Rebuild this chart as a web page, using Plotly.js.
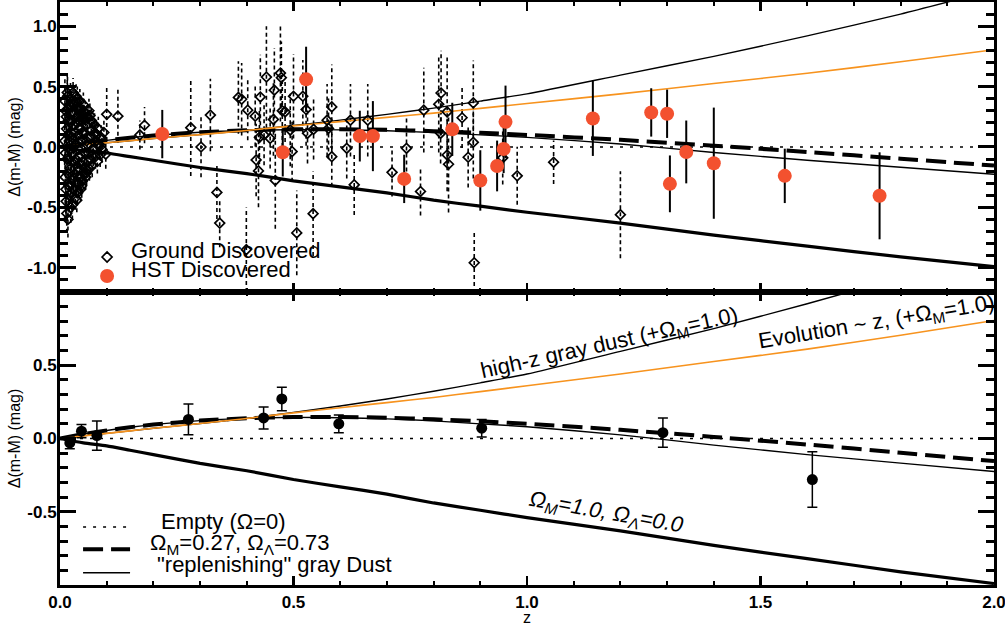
<!DOCTYPE html>
<html>
<head>
<meta charset="utf-8">
<script src="https://cdn.plot.ly/plotly-3.0.1.min.js"></script>
<style>
  html, body { margin: 0; padding: 0; background: #fff; }
  #chart { width: 1005px; height: 626px; }
</style>
</head>
<body>
<div id="chart"></div>
<script>
// ---------- model curves, Δ(m-M) relative to empty universe ----------
const zGrid        = [0, 0.05, 0.1, 0.15, 0.2, 0.3, 0.4, 0.5, 0.6, 0.7, 0.8, 0.9, 1.0, 1.2, 1.4, 1.6, 1.8, 2.0];
const emptyModel   = [0, 0, 0, 0, 0, 0, 0, 0, 0, 0, 0, 0, 0, 0, 0, 0, 0, 0];
const omegaM1      = [0, -0.03, -0.05, -0.08, -0.11, -0.17, -0.22, -0.28, -0.33, -0.38, -0.44, -0.49, -0.54, -0.63, -0.73, -0.82, -0.91, -0.99];
const lcdm         = [0, 0.03, 0.055, 0.077, 0.095, 0.122, 0.138, 0.146, 0.147, 0.142, 0.131, 0.118, 0.10, 0.059, 0.011, -0.041, -0.097, -0.154];
const replenishing = [0, 0.03, 0.055, 0.077, 0.095, 0.122, 0.137, 0.144, 0.142, 0.134, 0.12, 0.10, 0.08, 0.025, -0.045, -0.11, -0.168, -0.225];
const grayDust     = [0, 0.018, 0.035, 0.052, 0.07, 0.102, 0.137, 0.178, 0.222, 0.27, 0.322, 0.38, 0.44, 0.595, 0.75, 0.92, 1.10, 1.30];
const evolution    = [0, 0.018, 0.035, 0.052, 0.07, 0.102, 0.137, 0.175, 0.21, 0.245, 0.28, 0.32, 0.36, 0.44, 0.525, 0.61, 0.705, 0.805];

// ---------- ground-discovered SNe (top panel) ----------
const groundZ = [
  0.010, 0.011, 0.012, 0.013, 0.014, 0.015, 0.016, 0.017, 0.018, 0.019, 0.020, 0.021, 0.022, 0.023, 0.024,
  0.025, 0.026, 0.027, 0.028, 0.029, 0.030, 0.031, 0.032, 0.033, 0.034, 0.035, 0.036, 0.037, 0.038, 0.039,
  0.040, 0.041, 0.042, 0.043, 0.044, 0.045, 0.046, 0.047, 0.048, 0.049, 0.050, 0.051, 0.052, 0.053, 0.054,
  0.055, 0.056, 0.057, 0.058, 0.059, 0.060, 0.062, 0.063, 0.064, 0.065, 0.066, 0.068, 0.069, 0.070, 0.072,
  0.073, 0.075, 0.076, 0.078, 0.080, 0.082, 0.084, 0.086, 0.088, 0.090, 0.094, 0.098,
  0.0105, 0.0115, 0.0125, 0.0135, 0.0145, 0.0155, 0.0165, 0.0175, 0.0185, 0.0195, 0.0205, 0.0215, 0.0225,
  0.0235, 0.0245, 0.0255, 0.0265, 0.0275, 0.0285, 0.0295, 0.0305, 0.0315, 0.0325, 0.0335, 0.0345, 0.0355,
  0.0365, 0.0375, 0.0385, 0.0395, 0.0405, 0.0415, 0.0425, 0.0435, 0.0445, 0.0455, 0.0465, 0.0475, 0.0485,
  0.0495, 0.051, 0.053, 0.055, 0.057, 0.061, 0.067, 0.071, 0.074, 0.079, 0.085,
  0.100, 0.124, 0.171, 0.181, 0.280, 0.302, 0.322, 0.336, 0.342, 0.382, 0.389, 0.399, 0.402, 0.418, 0.420,
  0.425, 0.427, 0.429, 0.437, 0.442, 0.450, 0.457, 0.459, 0.461, 0.472, 0.474, 0.476, 0.482, 0.493, 0.497,
  0.500, 0.507, 0.520, 0.527, 0.530, 0.542, 0.543, 0.572, 0.575, 0.582, 0.582, 0.614, 0.622, 0.630, 0.659,
  0.711, 0.742, 0.772, 0.779, 0.811, 0.815, 0.816, 0.829, 0.829, 0.832, 0.861, 0.874, 0.885, 0.885, 0.887,
  0.948, 0.979, 1.057, 1.200
];
const groundV = [
  0.05, -0.25, 0.30, -0.45, 0.15, -0.10, 0.42, -0.60, 0.22, -0.32, 0.05, 0.35, -0.18, -0.50, 0.12,
  -0.38, 0.28, -0.05, 0.45, -0.26, 0.18, -0.12, 0.38, -0.42, 0.02, 0.25, -0.44, 0.40, -0.20, 0.10,
  -0.30, 0.30, -0.08, 0.32, -0.35, 0.15, -0.15, 0.22, -0.28, 0.05, 0.35, -0.22, 0.12, -0.05, 0.28,
  -0.25, 0.18, -0.215, 0.02, 0.25, -0.12, 0.30, -0.18, 0.26, 0.08, -0.10, 0.14, -0.15, 0.20, -0.02,
  0.10, 0.115, -0.08, 0.05, -0.12, 0.15, 0.02, -0.066, 0.08, -0.02, 0.12, -0.06,
  0.38, -0.05, -0.35, 0.25, -0.55, 0.45, 0.10, -0.22, 0.32, -0.40, -0.02, 0.20, 0.40,
  -0.30, -0.12, 0.08, -0.48, 0.35, 0.00, -0.35, 0.28, -0.22, 0.12, -0.10, 0.42, -0.30,
  0.20, -0.38, 0.32, -0.02, 0.22, -0.18, 0.38, -0.25, 0.05, 0.28, -0.32, 0.12, -0.12,
  0.25, 0.30, -0.18, 0.22, 0.05, -0.05, 0.22, -0.06, 0.18, 0.10, 0.00,
  0.27, 0.255, 0.10, 0.18, 0.16, 0.00, 0.264, -0.376, -0.63, 0.41, 0.395, -0.85, 0.305, 0.255, -0.107,
  -0.198, 0.08, 0.414, 0.099, 0.579, 0.071, 0.228, 0.47, -0.277, 0.612, 0.574, 0.299, 0.291, 0.14, -0.038,
  0.42, -0.711, 0.42, 0.31, 0.113, -0.552, 0.146, 0.222, 0.154, 0.332, -0.08, -0.011, 0.222, -0.313, 0.222,
  -0.21, -0.011, -0.368, 0.305, 0.354, 0.113, 0.447, 0.291, -0.066, -0.143, 0.242, -0.085, 0.365, 0.039, -0.958,
  -0.09, -0.239, -0.126, -0.56
];
const groundErr = [
  0.20, 0.22, 0.20, 0.18, 0.18, 0.18, 0.16, 0.15, 0.15, 0.15, 0.14, 0.14, 0.13, 0.13, 0.13,
  0.12, 0.12, 0.12, 0.12, 0.11, 0.11, 0.11, 0.10, 0.10, 0.10, 0.10, 0.10, 0.10, 0.10, 0.10,
  0.10, 0.10, 0.10, 0.10, 0.10, 0.10, 0.10, 0.10, 0.10, 0.10, 0.10, 0.10, 0.10, 0.10, 0.10,
  0.10, 0.10, 0.10, 0.10, 0.10, 0.10, 0.10, 0.10, 0.10, 0.10, 0.10, 0.10, 0.10, 0.10, 0.10,
  0.10, 0.10, 0.10, 0.10, 0.10, 0.10, 0.10, 0.10, 0.10, 0.11, 0.11, 0.12,
  0.20, 0.20, 0.20, 0.18, 0.16, 0.16, 0.16, 0.15, 0.15, 0.14, 0.14, 0.14, 0.13,
  0.13, 0.13, 0.12, 0.12, 0.12, 0.12, 0.11, 0.11, 0.11, 0.10, 0.10, 0.10, 0.10,
  0.10, 0.10, 0.10, 0.10, 0.10, 0.10, 0.10, 0.10, 0.10, 0.10, 0.10, 0.10, 0.10,
  0.10, 0.10, 0.10, 0.10, 0.10, 0.10, 0.10, 0.10, 0.10, 0.10, 0.10,
  0.22, 0.22, 0.12, 0.15, 0.40, 0.25, 0.30, 0.22, 0.20, 0.30, 0.30, 0.35, 0.25, 0.25, 0.30,
  0.30, 0.22, 0.35, 0.25, 0.42, 0.25, 0.30, 0.35, 0.40, 0.40, 0.30, 0.30, 0.25, 0.30, 0.25,
  0.35, 0.35, 0.30, 0.30, 0.25, 0.35, 0.25, 0.30, 0.25, 0.35, 0.25, 0.25, 0.30, 0.25, 0.30,
  0.20, 0.25, 0.20, 0.35, 0.40, 0.25, 0.35, 0.45, 0.30, 0.40, 0.25, 0.25, 0.35, 0.30, 0.25,
  0.22, 0.24, 0.18, 0.36
];

// ---------- HST-discovered SNe (top panel) ----------
const hstZ   = [0.219, 0.477, 0.527, 0.642, 0.670, 0.737, 0.840, 0.900, 0.936, 0.950, 0.954, 1.141, 1.266, 1.300, 1.306, 1.341, 1.400, 1.552, 1.755];
const hstV   = [0.107, -0.044, 0.56, 0.09, 0.09, -0.264, 0.146, -0.277, -0.157, -0.016, 0.208, 0.236, 0.286, 0.275, -0.305, -0.041, -0.134, -0.239, -0.404];
const hstErr = [0.20, 0.20, 0.27, 0.21, 0.29, 0.20, 0.22, 0.25, 0.21, 0.20, 0.30, 0.31, 0.20, 0.20, 0.235, 0.26, 0.46, 0.225, 0.36];

// ---------- binned data (bottom panel) ----------
const binZ   = [0.021, 0.046, 0.079, 0.275, 0.436, 0.475, 0.597, 0.903, 1.291, 1.611];
const binV   = [-0.03, 0.05, 0.02, 0.13, 0.14, 0.27, 0.10, 0.07, 0.04, -0.28];
const binErr = [0.04, 0.045, 0.10, 0.105, 0.075, 0.08, 0.06, 0.06, 0.10, 0.19];

// ---------- tick labels ----------
const xTickVals  = [0, 0.5, 1.0, 1.5, 2.0];
const xTickText  = ['0.0', '0.5', '1.0', '1.5', '2.0'];
const yTopVals   = [-1.0, -0.5, 0.0, 0.5, 1.0];
const yTopText   = ['-1.0', '-0.5', '0.0', '0.5', '1.0'];
const yBotVals   = [-0.5, 0.0, 0.5];
const yBotText   = ['-0.5', '0.0', '0.5'];

// ---------- styles ----------
const FONT = 'Liberation Sans, Arial, Helvetica, sans-serif';
const RED = '#f3512f';
const ORANGE = '#f7931e';
const BIG = 22;

function modelTraces(xa, ya) {
  const common = { x: zGrid, xaxis: xa, yaxis: ya, mode: 'lines', hoverinfo: 'skip', showlegend: false };
  return [
    Object.assign({}, common, { y: emptyModel, line: { color: 'black', width: 1.5, dash: '3px,7px' } }),
    Object.assign({}, common, { y: omegaM1, line: { color: 'black', width: 3.2, shape: 'spline', smoothing: 0.6 } }),
    Object.assign({}, common, { y: replenishing, line: { color: 'black', width: 1.4, shape: 'spline', smoothing: 0.6 } }),
    Object.assign({}, common, { y: lcdm, line: { color: 'black', width: 4, dash: '20px,8px', shape: 'spline', smoothing: 0.6 } }),
    Object.assign({}, common, { y: grayDust, line: { color: 'black', width: 1.4, shape: 'spline', smoothing: 0.6 } }),
    Object.assign({}, common, { y: evolution, line: { color: ORANGE, width: 1.6, shape: 'spline', smoothing: 0.6 } })
  ];
}

// dotted error bars for ground sample, built from the arrays
const gex = [], gey = [];
for (let i = 0; i < groundZ.length; i++) {
  gex.push(groundZ[i], groundZ[i], null);
  gey.push(groundV[i] - groundErr[i], groundV[i] + groundErr[i], null);
}

const traces = [].concat(
  [{ x: gex, y: gey, xaxis: 'x', yaxis: 'y', mode: 'lines', hoverinfo: 'skip', showlegend: false,
     line: { color: 'black', width: 1.6, dash: '4px,3px' } }],
  modelTraces('x', 'y'),
  [{ x: groundZ, y: groundV, xaxis: 'x', yaxis: 'y', mode: 'markers', showlegend: false,
     marker: { symbol: 'diamond-open', size: 7.5, color: 'black', line: { color: 'black', width: 1.7 } } },
   { x: hstZ, y: hstV, xaxis: 'x', yaxis: 'y', mode: 'markers', showlegend: false,
     error_y: { type: 'data', array: hstErr, visible: true, color: 'black', thickness: 2, width: 0 },
     marker: { symbol: 'circle', size: 14, color: RED, line: { width: 0 } } }],
  modelTraces('x2', 'y2'),
  [{ x: binZ, y: binV, xaxis: 'x2', yaxis: 'y2', mode: 'markers', showlegend: false,
     error_y: { type: 'data', array: binErr, visible: true, color: 'black', thickness: 1.5, width: 5 },
     marker: { symbol: 'circle', size: 11, color: 'black' } }]
);

function axisBase(extra) {
  return Object.assign({
    showline: true, linecolor: 'black', linewidth: 3, mirror: 'allticks',
    ticks: 'inside', tickcolor: 'black', showgrid: false, zeroline: false,
    tickfont: { family: FONT, size: 17, color: 'black', weight: 'bold' },
    ticklabeloverflow: 'allow',
    tickmode: 'array'
  }, extra);
}

const splitY = 0.5026;
const minorX = { tickmode: 'linear', tick0: 0, dtick: 0.1, ticks: 'inside', ticklen: 4, tickwidth: 2, tickcolor: 'black' };
const minorY = { tickmode: 'linear', tick0: 0, dtick: 0.1, ticks: 'inside', ticklen: 8, tickwidth: 3, tickcolor: 'black' };
const yTitle = { text: 'Δ(m-M) (mag)', font: { family: FONT, size: 16, color: 'black' }, standoff: 3 };

const layout = {
  width: 1005, height: 626,
  margin: { l: 60, r: 11, t: 2, b: 41 },
  paper_bgcolor: 'white', plot_bgcolor: 'white',
  font: { family: FONT, color: 'black' },
  showlegend: false,
  xaxis: axisBase({ domain: [0, 1], anchor: 'y', range: [0, 2], tickvals: xTickVals, ticktext: xTickText,
    showticklabels: false, ticklen: 9, tickwidth: 2.5, minor: minorX }),
  yaxis: axisBase({ domain: [splitY, 1], anchor: 'x', range: [-1.2, 1.2], tickvals: yTopVals, ticktext: yTopText,
    ticklen: 16, tickwidth: 3, minor: minorY, ticklabelstandoff: -3, title: yTitle }),
  xaxis2: axisBase({ domain: [0, 1], anchor: 'y2', range: [0, 2], tickvals: xTickVals, ticktext: xTickText,
    ticklen: 9, tickwidth: 2.5, minor: minorX,
    title: { text: 'z', font: { family: FONT, size: 16, color: 'black' }, standoff: 2 } }),
  yaxis2: axisBase({ domain: [0, splitY], anchor: 'x2', range: [-1, 1], tickvals: yBotVals, ticktext: yBotText,
    ticklen: 16, tickwidth: 3, minor: minorY, ticklabelstandoff: -3, title: yTitle }),
  shapes: [
    // top legend symbols
    { type: 'path', xref: 'paper', yref: 'paper', xsizemode: 'pixel', ysizemode: 'pixel',
      xanchor: 0.0504, yanchor: 0.5626, path: 'M -5 0 L 0 5 L 5 0 L 0 -5 Z',
      line: { color: 'black', width: 1.7 }, fillcolor: 'rgba(0,0,0,0)' },
    { type: 'circle', xref: 'paper', yref: 'paper', xsizemode: 'pixel', ysizemode: 'pixel',
      xanchor: 0.0504, yanchor: 0.530, x0: -7, x1: 7, y0: -7, y1: 7,
      line: { width: 0 }, fillcolor: RED },
    // bottom legend line samples
    { type: 'line', xref: 'paper', yref: 'paper', x0: 0.0247, x1: 0.075, y0: 0.0995, y1: 0.0995,
      line: { color: 'black', width: 1.5, dash: '3px,7px' } },
    { type: 'line', xref: 'paper', yref: 'paper', x0: 0.0247, x1: 0.075, y0: 0.0612, y1: 0.0612,
      line: { color: 'black', width: 4, dash: '20px,8px' } },
    { type: 'line', xref: 'paper', yref: 'paper', x0: 0.0247, x1: 0.075, y0: 0.0211, y1: 0.0211,
      line: { color: 'black', width: 1.4 } }
  ],
  annotations: [
    { xref: 'paper', yref: 'paper', x: 0.0740, y: 0.5746, xanchor: 'left', yanchor: 'middle', showarrow: false,
      text: 'Ground Discovered', font: { family: FONT, size: BIG, color: 'black' } },
    { xref: 'paper', yref: 'paper', x: 0.0740, y: 0.542, xanchor: 'left', yanchor: 'middle', showarrow: false,
      text: 'HST Discovered', font: { family: FONT, size: BIG, color: 'black' } },
    { xref: 'paper', yref: 'paper', x: 0.1065, y: 0.1086, xanchor: 'left', yanchor: 'middle', showarrow: false,
      text: 'Empty (Ω=0)', font: { family: FONT, size: BIG, color: 'black' } },
    { xref: 'paper', yref: 'paper', x: 0.0945, y: 0.0703, xanchor: 'left', yanchor: 'middle', showarrow: false,
      text: 'Ω<sub>M</sub>=0.27, Ω<sub>Λ</sub>=0.73', font: { family: FONT, size: BIG, color: 'black' } },
    { xref: 'paper', yref: 'paper', x: 0.1016, y: 0.0355, xanchor: 'left', yanchor: 'middle', showarrow: false,
      text: '"replenishing" gray Dust', font: { family: FONT, size: BIG, color: 'black' } },
    { xref: 'paper', yref: 'paper', x: 0.5884, y: 0.4134, xanchor: 'center', yanchor: 'middle', showarrow: false,
      textangle: -12.5, text: 'high-z gray dust (+Ω<sub>M</sub>=1.0)', font: { family: FONT, size: BIG, color: 'black' } },
    { xref: 'paper', yref: 'paper', x: 0.874, y: 0.4494, xanchor: 'center', yanchor: 'middle', showarrow: false,
      textangle: -9.5, text: 'Evolution ~ z, (+Ω<sub>M</sub>=1.0)', font: { family: FONT, size: BIG, color: 'black' } },
    { xref: 'paper', yref: 'paper', x: 0.5841, y: 0.1235, xanchor: 'center', yanchor: 'middle', showarrow: false,
      textangle: 10, text: '<i>Ω<sub>M</sub>=1.0, Ω<sub>Λ</sub>=0.0</i>', font: { family: FONT, size: BIG, color: 'black' } }
  ]
};

Plotly.newPlot('chart', traces, layout, { staticPlot: true, displayModeBar: false });
</script>
</body>
</html>
